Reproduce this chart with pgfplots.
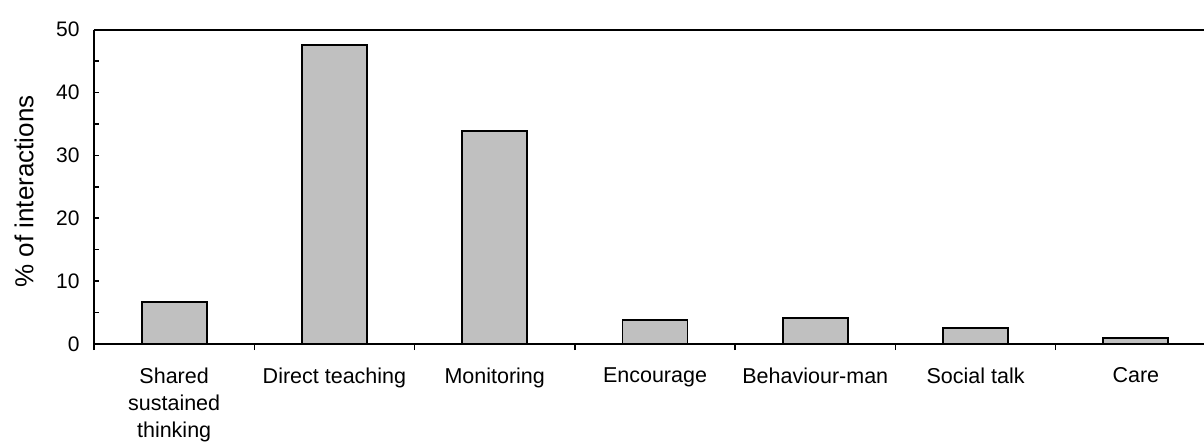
\documentclass[border=0pt]{standalone}
\usepackage{fontspec}
\setmainfont{Liberation Sans}
\usepackage{pgfplots}
\pgfplotsset{compat=1.18}
\definecolor{bargray}{RGB}{192,192,192}
\begin{document}
\begin{tikzpicture}
\begin{axis}[
  at={(0,0)}, anchor=south west,
  scale only axis, width=1110bp, height=314.5bp,
  xmin=-0.5, xmax=6.425, ymin=0, ymax=50,
  axis x line*=bottom, axis y line*=left,
  axis line style={line width=2bp, black},
  ybar, bar width=65bp,
  xtick={0,1,2,3,4,5,6},
  xticklabels={{Shared\\sustained\\thinking},{Direct teaching},{Monitoring},{Encourage},{Behaviour-man},{Social talk},{Care}},
  xticklabel style={align=center, font=\fontsize{21.5bp}{27bp}\selectfont, yshift=-20bp},
  major x tick style={draw=none},
  extra x ticks={-0.5,0.5,1.5,2.5,3.5,4.5,5.5},
  extra x tick labels={},
  extra x tick style={tick align=outside, major tick length=6bp, major x tick style={draw=black, line width=1.5bp}},
  tick align=inside,
  ytick={0,10,20,30,40,50},
  minor ytick={5,15,25,35,45},
  major tick length=5bp, minor tick length=5bp,
  tick style={line width=1.5bp, black},
  yticklabel style={font=\fontsize{21bp}{25bp}\selectfont, xshift=-11bp},
  /pgf/number format/assume math mode=true,
  ylabel={\% of interactions},
  ylabel style={font=\fontsize{26bp}{30bp}\selectfont, at={(axis description cs:-0.0631,0.485)}, anchor=center},
]
\addplot[fill=bargray, draw=black, line width=1.8bp] coordinates {(0,6.7) (1,47.5) (2,33.8) (3,3.8) (4,4.1) (5,2.5) (6,0.9)};
\draw[line width=2bp, black] (rel axis cs:0,1) -- (rel axis cs:1,1);
\end{axis}
\pgfresetboundingbox
\useasboundingbox (-94bp,-99bp) rectangle (1110bp,344bp);
\end{tikzpicture}
\end{document}
